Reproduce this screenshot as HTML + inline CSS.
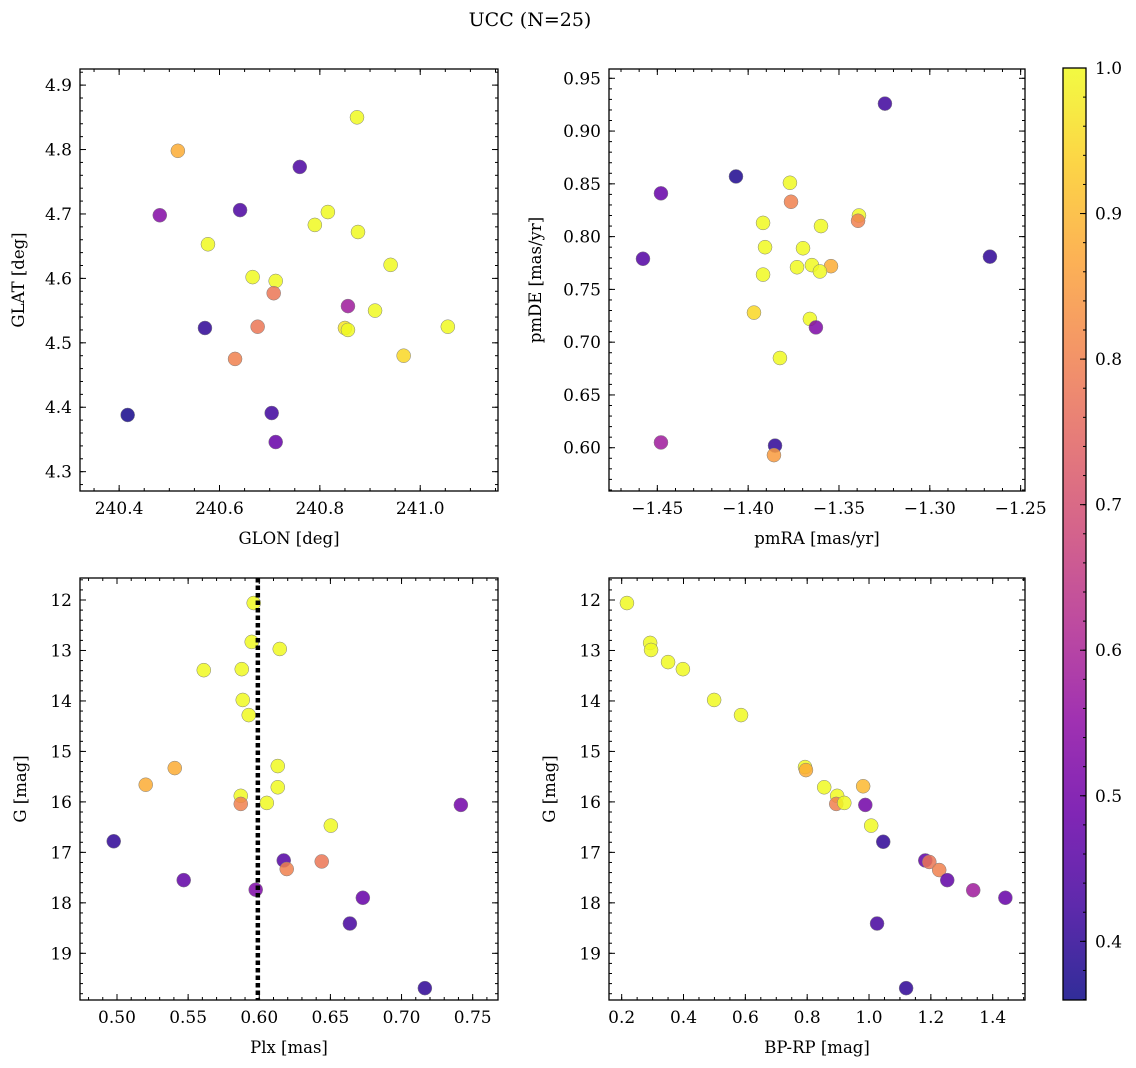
<!DOCTYPE html>
<html><head><meta charset="utf-8">
<style>
html,body{margin:0;padding:0;background:#fff;}
svg{display:block;font-family:"DejaVu Serif","Liberation Serif",serif;}
</style></head>
<body>
<svg id="fig" width="1136" height="1068" viewBox="0 0 1136 1068" xmlns="http://www.w3.org/2000/svg">
<defs>
<linearGradient id="plasmaGrad" x1="0" y1="1" x2="0" y2="0"></linearGradient>
</defs>
<text x="530" y="26" font-size="19" text-anchor="middle">UCC (N=25)</text>
</svg>
<script>
// ---------- DATA ----------
const glon = [240.517,240.874,240.760,240.641,240.481,240.816,240.790,240.876,240.577,240.941,240.666,240.712,240.708,240.856,240.910,240.850,240.856,240.676,240.571,241.055,240.967,240.631,240.417,240.704,240.712];
const glat = [4.798,4.850,4.773,4.706,4.698,4.703,4.683,4.672,4.653,4.621,4.602,4.596,4.577,4.557,4.550,4.523,4.520,4.525,4.523,4.525,4.480,4.475,4.388,4.391,4.346];
const probTL = [0.88,1.0,0.44,0.44,0.53,1.0,1.0,1.0,1.0,1.0,1.0,1.0,0.78,0.58,1.0,0.97,1.0,0.78,0.40,1.0,0.95,0.80,0.37,0.42,0.48];

const pmra = [-1.3247,-1.4067,-1.448,-1.377,-1.3764,-1.339,-1.3395,-1.3918,-1.3599,-1.3907,-1.3698,-1.4579,-1.2669,-1.3731,-1.3649,-1.3544,-1.3605,-1.3918,-1.3968,-1.366,-1.3627,-1.3825,-1.448,-1.3852,-1.3858];
const pmde = [0.926,0.857,0.841,0.851,0.833,0.820,0.815,0.813,0.810,0.790,0.789,0.779,0.781,0.771,0.773,0.772,0.767,0.764,0.728,0.722,0.714,0.685,0.605,0.602,0.593];
const probTR = [0.42,0.38,0.48,1.0,0.80,1.0,0.80,1.0,1.0,1.0,1.0,0.45,0.40,1.0,1.0,0.88,1.0,1.0,0.95,1.0,0.52,1.0,0.58,0.40,0.85];

const plx = [0.5961,0.5947,0.6144,0.561,0.5877,0.5884,0.5926,0.613,0.5406,0.5202,0.613,0.587,0.587,0.6053,0.7417,0.6503,0.4977,0.6172,0.6439,0.6193,0.5469,0.5975,0.6728,0.6637,0.7164];
const gmagBL = [12.06,12.83,12.97,13.39,13.37,13.98,14.28,15.29,15.33,15.66,15.71,15.88,16.04,16.02,16.06,16.47,16.78,17.16,17.18,17.33,17.55,17.74,17.90,18.41,19.69];
const probBL = [1.0,1.0,1.0,1.0,1.0,1.0,1.0,1.0,0.88,0.88,1.0,1.0,0.80,1.0,0.50,1.0,0.40,0.45,0.78,0.80,0.47,0.52,0.48,0.43,0.40];
const plxLine = 0.599;

const bprp = [0.217,0.292,0.295,0.350,0.398,0.499,0.586,0.793,0.796,0.981,0.855,0.897,0.894,0.920,0.988,1.007,1.046,1.182,1.195,1.227,1.253,1.337,1.441,1.026,1.120];
const gmagBR = [12.06,12.85,12.99,13.23,13.37,13.98,14.28,15.31,15.37,15.69,15.71,15.88,16.04,16.02,16.06,16.47,16.79,17.16,17.19,17.35,17.55,17.75,17.90,18.41,19.69];
const probBR = [1.0,1.0,1.0,1.0,1.0,1.0,1.0,1.0,0.88,0.90,1.0,1.0,0.80,1.0,0.50,1.0,0.40,0.47,0.78,0.80,0.47,0.58,0.48,0.43,0.40];

const tlXTicks = [240.4,240.6,240.8,241.0];
const tlYTicks = [4.3,4.4,4.5,4.6,4.7,4.8,4.9];
const trXTicks = [-1.45,-1.40,-1.35,-1.30,-1.25];
const trYTicks = [0.60,0.65,0.70,0.75,0.80,0.85,0.90,0.95];
const blXTicks = [0.50,0.55,0.60,0.65,0.70,0.75];
const gTicks = [12,13,14,15,16,17,18,19];
const brXTicks = [0.2,0.4,0.6,0.8,1.0,1.2,1.4];
const cbTicks = [0.4,0.5,0.6,0.7,0.8,0.9,1.0];
const cbMin = 0.3597, cbMax = 1.0;

// ---------- HELPERS ----------
const NS = "http://www.w3.org/2000/svg";
const svg = document.getElementById('fig');
function mk(tag, attrs, parent){
  const e = document.createElementNS(NS, tag);
  for (const k in attrs) e.setAttribute(k, attrs[k]);
  (parent||svg).appendChild(e);
  return e;
}
const plasma = ['#0d0887','#41049d','#6a00a8','#8f0da4','#b12a90','#cc4778','#e16462','#f2844b','#fca636','#fcce25','#f0f921'];
function hex(h){return [parseInt(h.slice(1,3),16),parseInt(h.slice(3,5),16),parseInt(h.slice(5,7),16)];}
function cmap(t){
  t = Math.max(0, Math.min(1, t));
  const f = t*10, i = Math.min(9, Math.floor(f)), r = f - i;
  const a = hex(plasma[i]), b = hex(plasma[i+1]);
  return 'rgb(' + a.map((v,k)=>Math.round(v+(b[k]-v)*r)).join(',') + ')';
}
function pcol(p){ return cmap((p-cbMin)/(cbMax-cbMin)); }
function fmt(v, d){ const s = v.toFixed(d); return v < 0 ? '\u2212' + s.slice(1) : s; }

function panel(cfg){
  const {name, L, T, R, B, xmin, xmax, ymin, ymax, invertY, xTicks, yTicks, xMinor, yMinor, xDec, yDec, xLabel, yLabel, xs, ys, ps} = cfg;
  const g = mk('g', {});
  
  
  const sx = v => L + (v - xmin) / (xmax - xmin) * (R - L);
  const sy = v => invertY ? T + (v - ymin) / (ymax - ymin) * (B - T) : B - (v - ymin) / (ymax - ymin) * (B - T);
  cfg.sx = sx; cfg.sy = sy; cfg.g = g;
  const pts = mk('g', {}, g);
  
  
  for (let i = 0; i < xs.length; i++){
    const c = mk('circle', {cx: sx(xs[i]), cy: sy(ys[i]), r: 7, fill: pcol(ps[i]), 'fill-opacity': 0.85, stroke: '#808080', 'stroke-width': 0.5}, pts);
    
    
  }
  const tk = mk('g', {stroke: '#000', 'stroke-width': 1}, g);
  
  
  const eps = 1e-9;
  for (let v = Math.ceil(xmin / xMinor - eps) * xMinor; v <= xmax + eps; v += xMinor){
    const x = sx(v);
    mk('line', {x1: x, x2: x, y1: B, y2: B - 3}, tk);
    mk('line', {x1: x, x2: x, y1: T, y2: T + 3}, tk);
  }
  for (let v = Math.ceil(ymin / yMinor - eps) * yMinor; v <= ymax + eps; v += yMinor){
    const y = sy(v);
    mk('line', {x1: L, x2: L + 3, y1: y, y2: y}, tk);
    mk('line', {x1: R, x2: R - 3, y1: y, y2: y}, tk);
  }
  xTicks.forEach(v => {
    const x = sx(v);
    mk('line', {x1: x, x2: x, y1: B, y2: B - 6}, tk);
    mk('line', {x1: x, x2: x, y1: T, y2: T + 6}, tk);
    const t = mk('text', {x: x, y: B + 23, 'font-size': 17, 'text-anchor': 'middle'}, g);
    t.textContent = fmt(v, xDec);
    
    
  });
  yTicks.forEach(v => {
    const y = sy(v);
    mk('line', {x1: L, x2: L + 6, y1: y, y2: y}, tk);
    mk('line', {x1: R, x2: R - 6, y1: y, y2: y}, tk);
    const t = mk('text', {x: L - 8, y: y + 6, 'font-size': 17, 'text-anchor': 'end'}, g);
    t.textContent = fmt(v, yDec);
    
    
  });
  const fr = mk('rect', {x: L, y: T, width: R - L, height: B - T, fill: 'none', stroke: '#000', 'stroke-width': 1.3}, g);
  
  
  const xl = mk('text', {x: (L + R) / 2, y: B + 53, 'font-size': 16.5, 'text-anchor': 'middle'}, g);
  xl.textContent = xLabel;
  
  
  const yx = cfg.yLabelX, yc = (T + B) / 2;
  const yl = mk('text', {x: yx, y: yc, 'font-size': 16.5, 'text-anchor': 'middle', transform: 'rotate(-90 ' + yx + ' ' + yc + ')'}, g);
  yl.textContent = yLabel;
  
  
  return cfg;
}

panel({name: 'panel-glon-glat', L: 80, T: 69, R: 498, B: 491, xmin: 240.322, xmax: 241.155, ymin: 4.270, ymax: 4.925, invertY: false,
  xTicks: tlXTicks, yTicks: tlYTicks, xMinor: 0.05, yMinor: 0.02, xDec: 1, yDec: 1, xLabel: 'GLON [deg]', yLabel: 'GLAT [deg]', yLabelX: 24,
  xs: glon, ys: glat, ps: probTL});
panel({name: 'panel-pmra-pmde', L: 609, T: 69, R: 1025, B: 491, xmin: -1.4766, xmax: -1.2476, ymin: 0.559, ymax: 0.9588, invertY: false,
  xTicks: trXTicks, yTicks: trYTicks, xMinor: 0.01, yMinor: 0.01, xDec: 2, yDec: 2, xLabel: 'pmRA [mas/yr]', yLabel: 'pmDE [mas/yr]', yLabelX: 541,
  xs: pmra, ys: pmde, ps: probTR});
const bl = panel({name: 'panel-plx-g', L: 80, T: 578, R: 498, B: 1000, xmin: 0.474, xmax: 0.7678, ymin: 11.564, ymax: 19.925, invertY: true,
  xTicks: blXTicks, yTicks: gTicks, xMinor: 0.01, yMinor: 0.2, xDec: 2, yDec: 0, xLabel: 'Plx [mas]', yLabel: 'G [mag]', yLabelX: 26,
  xs: plx, ys: gmagBL, ps: probBL});
const vl = mk('line', {x1: bl.sx(plxLine), x2: bl.sx(plxLine), y1: 578, y2: 1000, stroke: '#000', 'stroke-width': 4.5, 'stroke-dasharray': '4.5 3'}, bl.g);


panel({name: 'panel-bprp-g', L: 609, T: 578, R: 1025, B: 1000, xmin: 0.159, xmax: 1.5045, ymin: 11.564, ymax: 19.925, invertY: true,
  xTicks: brXTicks, yTicks: gTicks, xMinor: 0.05, yMinor: 0.2, xDec: 1, yDec: 0, xLabel: 'BP-RP [mag]', yLabel: 'G [mag]', yLabelX: 555,
  xs: bprp, ys: gmagBR, ps: probBR});

// ---------- COLORBAR ----------
const grad = document.getElementById('plasmaGrad');
for (let k = 0; k <= 20; k++){
  const f = k / 20;
  const p = cbMin + f * (cbMax - cbMin);
  mk('stop', {offset: f, 'stop-color': pcol(p), 'stop-opacity': 0.85}, grad);
}
const cbL = 1063, cbR = 1086, cbT = 68, cbB = 1000;
const cbg = mk('g', {});


mk('rect', {x: cbL, y: cbT, width: cbR - cbL, height: cbB - cbT, fill: 'url(#plasmaGrad)', stroke: '#000', 'stroke-width': 1.3}, cbg);
const cy = v => cbB - (v - cbMin) / (cbMax - cbMin) * (cbB - cbT);
for (let v = 0.36; v <= 1.0001; v += 0.02){
  mk('line', {x1: cbR, x2: cbR - 3, y1: cy(v), y2: cy(v), stroke: '#000', 'stroke-width': 1}, cbg);
}
cbTicks.forEach(v => {
  mk('line', {x1: cbR, x2: cbR - 6, y1: cy(v), y2: cy(v), stroke: '#000', 'stroke-width': 1}, cbg);
  const t = mk('text', {x: cbR + 9, y: cy(v) + 6, 'font-size': 17}, cbg);
  t.textContent = v.toFixed(1);
  
  
});
</script>
</body></html>
